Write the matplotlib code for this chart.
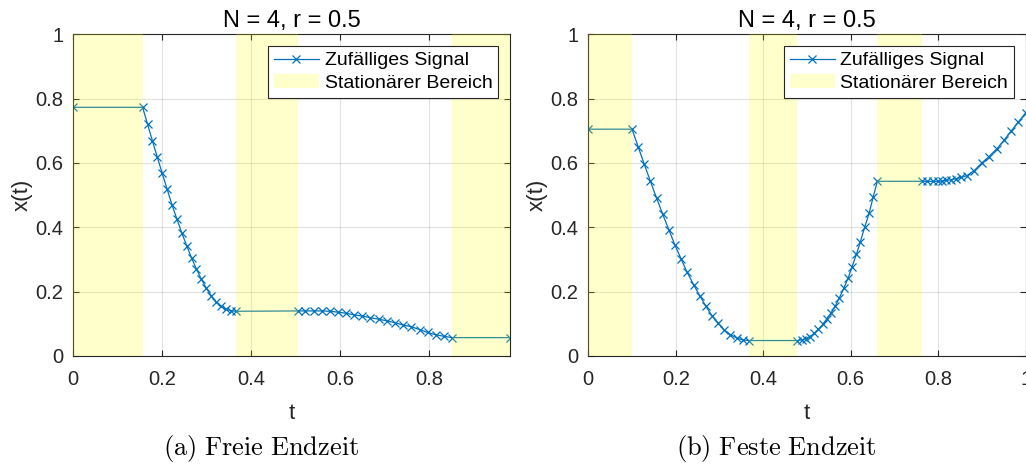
import numpy as np
import matplotlib
matplotlib.use("Agg")
import matplotlib.pyplot as plt
from matplotlib.ticker import FormatStrFormatter

plt.rcParams['font.family'] = ['Liberation Sans', 'DejaVu Sans']
plt.rcParams['mathtext.fontset'] = 'cm'

# (a) Freie Endzeit
t_frei = [0.0,
          0.156, 0.167, 0.178, 0.189, 0.200, 0.211, 0.222, 0.233, 0.244, 0.255,
          0.266, 0.277, 0.288, 0.299, 0.310, 0.321, 0.332, 0.343, 0.354, 0.365,
          0.505, 0.522, 0.541, 0.559, 0.577, 0.596, 0.613, 0.631, 0.650, 0.668,
          0.688, 0.706, 0.724, 0.742, 0.760, 0.779, 0.797, 0.815, 0.834, 0.852,
          0.982]
x_frei = [0.773,
          0.773, 0.721, 0.669, 0.618, 0.568, 0.519, 0.470, 0.426, 0.383, 0.343,
          0.305, 0.270, 0.239, 0.211, 0.188, 0.168, 0.154, 0.145, 0.141, 0.139,
          0.140, 0.140, 0.140, 0.140, 0.139, 0.136, 0.133, 0.128, 0.124, 0.119,
          0.114, 0.109, 0.103, 0.096, 0.091, 0.082, 0.073, 0.066, 0.061, 0.057,
          0.057]
stat_frei_von = [0.0, 0.365, 0.852]
stat_frei_bis = [0.156, 0.505, 0.982]

# (b) Feste Endzeit
t_fest = [0.0,
          0.100, 0.114, 0.128, 0.142, 0.156, 0.170, 0.184, 0.198, 0.212, 0.226,
          0.241, 0.255, 0.269, 0.283, 0.297, 0.311, 0.325, 0.339, 0.353, 0.367,
          0.478, 0.488, 0.497, 0.507, 0.516, 0.526, 0.536, 0.545, 0.555, 0.565,
          0.574, 0.584, 0.594, 0.603, 0.613, 0.622, 0.632, 0.642, 0.651, 0.661,
          0.762, 0.775, 0.787, 0.799, 0.808, 0.818, 0.830, 0.841, 0.853, 0.866,
          0.882, 0.899, 0.916, 0.934, 0.950, 0.966, 0.983, 1.000]
x_fest = [0.705,
          0.705, 0.650, 0.596, 0.543, 0.491, 0.441, 0.393, 0.345, 0.302, 0.260,
          0.221, 0.187, 0.154, 0.125, 0.101, 0.081, 0.066, 0.056, 0.050, 0.048,
          0.048, 0.050, 0.054, 0.060, 0.070, 0.083, 0.098, 0.115, 0.134, 0.156,
          0.181, 0.210, 0.242, 0.277, 0.316, 0.355, 0.401, 0.443, 0.493, 0.543,
          0.543, 0.543, 0.543, 0.543, 0.544, 0.546, 0.548, 0.551, 0.555, 0.561,
          0.576, 0.599, 0.620, 0.644, 0.670, 0.698, 0.727, 0.756]
stat_fest_von = [0.0, 0.367, 0.661]
stat_fest_bis = [0.099, 0.478, 0.762]

titel = "N = 4, r = 0.5"
unterschrift = [r"$\mathrm{(a)\ Freie\ Endzeit}$", r"$\mathrm{(b)\ Feste\ Endzeit}$"]

blau = '#0072BD'
dunkel = '#262626'


def zeichne(ax, t, x, von, bis, xmax):
    ax.plot(t, x, '-x', color=blau, lw=0.9, ms=5.5, mew=0.9,
            label='Zufälliges Signal', zorder=2)
    # stationaere Bereiche halbtransparent ueber das Signal legen
    for i in range(len(von)):
        ax.axvspan(von[i], bis[i], color='yellow', alpha=0.2, lw=0, zorder=3,
                   label='Stationärer Bereich' if i == 0 else None)
    ax.set_ylim(0, 1)
    ax.set_xticks([0, 0.2, 0.4, 0.6, 0.8, 1.0])
    ax.set_xlim(0, xmax)
    ax.set_yticks([0, 0.2, 0.4, 0.6, 0.8, 1.0])
    ax.xaxis.set_major_formatter(FormatStrFormatter('%g'))
    ax.yaxis.set_major_formatter(FormatStrFormatter('%g'))
    ax.grid(True, color='#262626', alpha=0.13, lw=0.8)
    ax.tick_params(direction='in', length=4, width=0.8, colors=dunkel,
                   labelsize=14.5, top=True, right=True, pad=7)
    ax.tick_params(axis='x', pad=10)
    for s in ax.spines.values():
        s.set_color(dunkel)
        s.set_linewidth(0.8)
    ax.set_title(titel, fontsize=17, color='black', pad=5)
    ax.set_xlabel('t', fontsize=16, color=dunkel, labelpad=10)
    ax.set_ylabel('x(t)', fontsize=16, color=dunkel, labelpad=2)
    leg = ax.legend(loc='upper right', fontsize=14, fancybox=False,
                    edgecolor=dunkel, framealpha=1, borderaxespad=0.6,
                    handlelength=2.3, handletextpad=0.3, borderpad=0.3,
                    labelspacing=0.25)
    leg.get_frame().set_linewidth(0.8)


fig = plt.figure(figsize=(10.26, 4.66), dpi=100)
ax1 = fig.add_axes([0.0714, 0.2361, 0.4256, 0.6903])
ax2 = fig.add_axes([0.5734, 0.2361, 0.4263, 0.6903])

zeichne(ax1, t_frei, x_frei, stat_frei_von, stat_frei_bis, t_frei[-1])
zeichne(ax2, t_fest, x_fest, stat_fest_von, stat_fest_bis, t_fest[-1])

fig.text(0.2544, 0.0386, unterschrift[0], ha='center', va='center', fontsize=19)
fig.text(0.7563, 0.0386, unterschrift[1], ha='center', va='center', fontsize=19)

fig.savefig('out.png', dpi=100)
